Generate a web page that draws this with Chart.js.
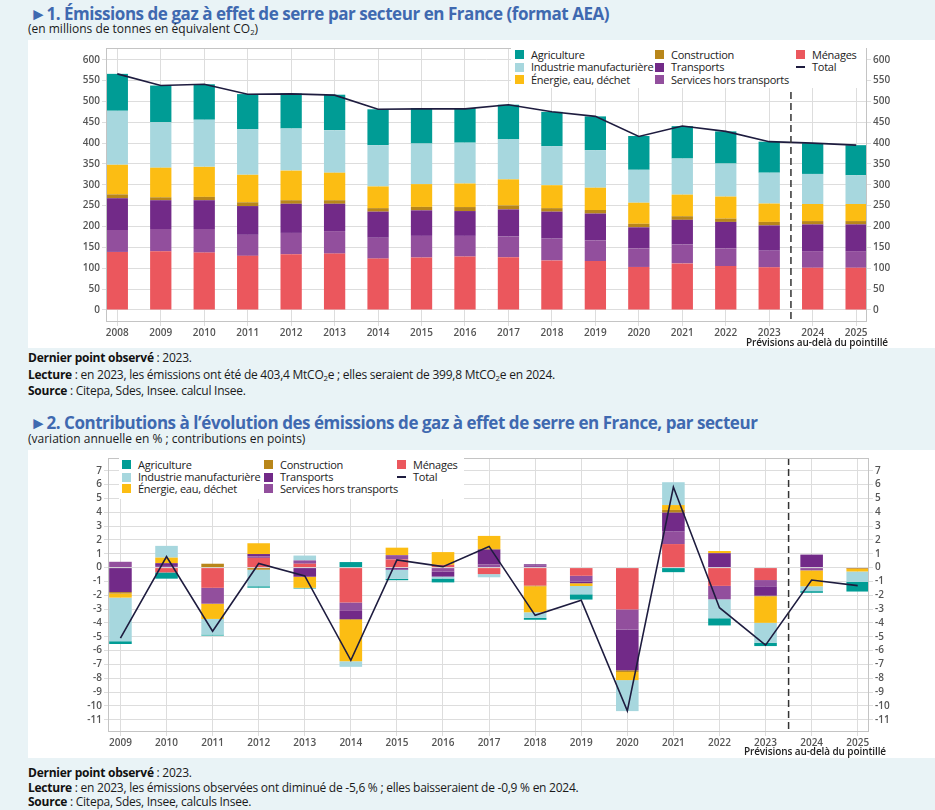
<!DOCTYPE html>
<html lang="fr">
<head>
<meta charset="utf-8">
<script src="https://cdn.jsdelivr.net/npm/chart.js@4.4.1/dist/chart.umd.min.js"></script>
<style>
  body { margin: 0; width: 935px; height: 810px; background: #e9f3f6; font-family: "Open Sans", sans-serif; color: #1a1a1a; position: relative; overflow: hidden; }
  .title { position: absolute; left: 30px; font-weight: 700; font-size: 17px; line-height: 20px; color: #3f69b0; white-space: nowrap; letter-spacing: -0.45px; }
  .sub { position: absolute; left: 28px; font-size: 12px; line-height: 16px; white-space: nowrap; }
  .panel { position: absolute; left: 28px; width: 907px; height: 308px; background: #fff; }
  .notes { position: absolute; left: 28px; font-size: 12px; white-space: nowrap; letter-spacing: -0.25px; }
  .notes b { font-weight: 700; color: #111; }
  sub { font-size: 0.65em; line-height: 0; vertical-align: -0.3em; }
  .legend { position: absolute; background: #fff; font-size: 11px; color: #222; letter-spacing: -0.25px; }
  .legend .it { position: absolute; white-space: nowrap; line-height: 13px; }
  .legend .sw { position: absolute; width: 9px; height: 9px; }
  .legend .ln { position: absolute; width: 9px; height: 2px; }
  .prev { position: absolute; font-size: 10px; font-weight: 600; color: #222; white-space: nowrap; letter-spacing: -0.1px; }
</style>
</head>
<body>
<div class="title" style="top:4px">►1. Émissions de gaz à effet de serre par secteur en France (format AEA)</div>
<div class="sub" style="top:21px">(en millions de tonnes en équivalent CO<sub>2</sub>)</div>
<div class="panel" style="top:40px"><canvas id="chartEmissions"></canvas></div>
<div class="legend" id="legend1" style="left:511px; top:44px; width:355px; height:44px"></div>
<div class="prev" style="right:47px; top:335px">Prévisions au-delà du pointillé</div>
<div class="notes" style="top:350px; line-height:16.7px">
  <b>Dernier point observé</b> : 2023.<br>
  <b>Lecture</b> : en 2023, les émissions ont été de 403,4 MtCO<sub>2</sub>e ; elles seraient de 399,8 MtCO<sub>2</sub>e en 2024.<br>
  <b>Source</b> : Citepa, Sdes, Insee. calcul Insee.
</div>

<div class="title" style="top:413px">►2. Contributions à l’évolution des émissions de gaz à effet de serre en France, par secteur</div>
<div class="sub" style="top:431px">(variation annuelle en % ; contributions en points)</div>
<div class="panel" style="top:450px"><canvas id="chartContrib"></canvas></div>
<div class="legend" id="legend2" style="left:119px; top:453px; width:345px; height:46px"></div>
<div class="prev" style="right:49px; top:744px">Prévisions au-delà du pointillé</div>
<div class="notes" style="top:766px; line-height:14.5px">
  <b>Dernier point observé</b> : 2023.<br>
  <b>Lecture</b> : en 2023, les émissions observées ont diminué de -5,6 % ; elles baisseraient de -0,9 % en 2024.<br>
  <b>Source</b> : Citepa, Sdes, Insee, calculs Insee.
</div>

<script>
// ---- graphique 1 : émissions (MtCO2e) ----
const years1 = [2008, 2009, 2010, 2011, 2012, 2013, 2014, 2015, 2016, 2017, 2018, 2019, 2020, 2021, 2022, 2023, 2024, 2025];
const emMenages = [139, 140.6, 137.4, 129.6, 133.5, 135, 123, 125.7, 128, 126.4, 118.6, 117, 103, 111.5, 105, 102, 101, 101];
const emServices = [52.6, 53.4, 56.6, 50.4, 51.1, 54, 50, 51.8, 49.5, 49.6, 52.4, 49.5, 44.6, 45.5, 42.6, 40, 40, 40];
const emTransports = [76.2, 69, 69, 69, 69.9, 65.5, 62.6, 61.2, 59.5, 65, 64.6, 64.5, 50.4, 59, 63.4, 60.6, 64, 64];
const emConstruction = [9.2, 7, 8, 9, 8.5, 8.5, 8.4, 8.3, 9.6, 9.5, 8.4, 8.5, 8.5, 8.6, 8, 8.4, 8, 8];
const emEnergie = [71, 71, 72, 66, 71, 66, 52, 54.6, 56.4, 62.5, 55, 53.5, 50.5, 51.8, 52.7, 44, 41, 41];
const emIndustrie = [129.5, 109, 113, 109, 101, 102, 99, 97.4, 98, 96, 93.7, 90, 79, 86.6, 79.3, 74, 72, 69];
const emAgriculture = [88.5, 88, 85, 84.5, 84, 85, 86, 85, 83, 83, 82.3, 81, 81, 77.6, 77, 74.4, 73.8, 72];
const emTotal = [566, 538, 541, 517, 518, 515, 481, 482, 482, 492, 475, 464, 416, 441, 428, 403.4, 399.8, 395];
const ticks1 = [0, 50, 100, 150, 200, 250, 300, 350, 400, 450, 500, 550, 600];

// ---- graphique 2 : contributions (points) ----
const years2 = [2009, 2010, 2011, 2012, 2013, 2014, 2015, 2016, 2017, 2018, 2019, 2020, 2021, 2022, 2023, 2024, 2025];
const ctMenages = [0, -0.35, -1.46, 0.7, 0.28, -2.52, 0.59, 0.2, -0.47, -1.3, -0.59, -3.02, 1.7, -1.32, -0.9, 0, -0.03];
const ctServices = [0.42, 0.12, -1.15, 0.1, 0.24, -0.61, 0.31, -0.28, 0.24, 0.14, -0.42, -1.46, 0.9, -0.97, -0.45, -0.2, 0];
const ctTransports = [-1.77, 0.2, 0, 0.18, -0.66, -0.59, -0.15, -0.37, 1.06, 0.1, -0.12, -2.94, 1.37, 1.04, -0.68, 0.94, 0];
const ctConstruction = [-0.1, 0, 0.28, -0.15, 0, -0.05, 0, 0, 0.05, -0.05, 0, -0.12, 0.2, 0, -0.05, 0, -0.05];
const ctEnergie = [-0.3, 0.4, -1.1, 0.78, -0.8, -3.0, 0.54, 0.92, 0.94, -1.88, -0.2, -0.59, 0.35, 0.16, -1.91, -1.15, -0.2];
const ctIndustrie = [-3.15, 0.85, -1.13, -1.2, 0.35, -0.4, -0.66, -0.14, -0.23, -0.4, -0.6, -2.24, 1.65, -1.37, -1.44, -0.35, -0.75];
const ctAgriculture = [-0.2, -0.45, -0.07, -0.1, -0.05, 0.4, -0.1, -0.28, 0, -0.14, -0.38, 0, -0.33, -0.52, -0.24, -0.12, -0.7];
const ctTotal = [-5.1, 0.8, -4.6, 0.3, -0.6, -6.7, 0.55, 0.07, 1.53, -3.45, -2.35, -10.35, 5.82, -2.9, -5.6, -0.9, -1.3];
const ticks2 = [-11, -10, -9, -8, -7, -6, -5, -4, -3, -2, -1, 0, 1, 2, 3, 4, 5, 6, 7];

const lastObserved = 2023;

const colors = {
  "Agriculture": "#009c95",
  "Industrie manufacturière": "#a7d7de",
  "Énergie, eau, déchet": "#fcbd13",
  "Construction": "#b8861a",
  "Transports": "#722a88",
  "Services hors transports": "#924f9d",
  "Ménages": "#eb575d",
  "Total": "#1e1c3f",
};
// ordre des colonnes de la légende
const legendCols = [
  ["Agriculture", "Industrie manufacturière", "Énergie, eau, déchet"],
  ["Construction", "Transports", "Services hors transports"],
  ["Ménages", "Total"],
];

function buildLegend(id, colX, rowY) {
  const box = document.getElementById(id);
  legendCols.forEach((col, c) => {
    col.forEach((name, r) => {
      const mark = document.createElement("div");
      mark.className = name === "Total" ? "ln" : "sw";
      mark.style.background = colors[name];
      mark.style.left = colX[c] + "px";
      mark.style.top = (rowY[r] - (name === "Total" ? 1 : 4.5)) + "px";
      box.appendChild(mark);
      const txt = document.createElement("div");
      txt.className = "it";
      txt.textContent = name;
      txt.style.left = (colX[c] + 16) + "px";
      txt.style.top = (rowY[r] - 7) + "px";
      box.appendChild(txt);
    });
  });
}
buildLegend("legend1", [4, 144, 285], [10.5, 23, 35.5]);
buildLegend("legend2", [3, 145, 278], [11.5, 24, 35.5]);

// cadre + trait vertical pointillé
const framePlugin = {
  id: "frame",
  afterDraw(chart) {
    const { ctx, chartArea: a, scales } = chart;
    const x = scales.x.getPixelForValue(lastObserved + 0.5);
    ctx.save();
    ctx.strokeStyle = "#333";
    ctx.lineWidth = 1.5;
    ctx.setLineDash([7, 4]);
    ctx.beginPath();
    ctx.moveTo(x, a.top);
    ctx.lineTo(x, a.bottom);
    ctx.stroke();
    ctx.setLineDash([]);
    ctx.strokeStyle = "#c4c4c4";
    ctx.lineWidth = 1;
    ctx.strokeRect(a.left + 0.5, a.top + 0.5, a.width - 1, a.height - 1);
    ctx.restore();
  },
};

function bars(labels, series) {
  return labels.map((name, i) => ({
    type: "bar",
    label: name,
    data: series[i],
    backgroundColor: colors[name],
    borderWidth: 0,
    barPercentage: 0.49,
    categoryPercentage: 1,
    order: 1,
  }));
}

const tickFont = { family: "Open Sans", size: 10, weight: "600" };
const gridColor = "#dddddd";

function yAxis(min, max, tickList, side, width) {
  return {
    type: "linear",
    position: side,
    stacked: side === "left",
    min: min,
    max: max,
    afterBuildTicks: (s) => { s.ticks = tickList.map((v) => ({ value: v })); },
    afterFit: (s) => { s.width = width; },
    grid: { color: gridColor, tickLength: 4, drawOnChartArea: side === "left" },
    border: { display: false },
    ticks: { padding: 2, color: "#555", font: tickFont, callback: (v) => String(v) },
  };
}

function xAxis(min, max, yearList) {
  return {
    type: "linear",
    stacked: true,
    offset: false,
    min: min,
    max: max,
    afterBuildTicks: (s) => { s.ticks = yearList.map((v) => ({ value: v })); },
    afterFit: (s) => { s.height = 26; },
    grid: { color: gridColor, tickLength: 4, offset: false },
    border: { display: false },
    ticks: { padding: 1, color: "#555", font: tickFont, autoSkip: false, maxRotation: 0, callback: (v) => String(v) },
  };
}

const sectorOrder = ["Ménages", "Services hors transports", "Transports", "Construction", "Énergie, eau, déchet", "Industrie manufacturière", "Agriculture"];

const ctx1 = document.getElementById("chartEmissions").getContext("2d");
new Chart(ctx1, {
  data: {
    labels: years1,
    datasets: [
      {
        type: "line",
        label: "Total",
        data: emTotal,
        borderColor: colors["Total"],
        borderWidth: 1.6,
        pointRadius: 0,
        stack: "total",
        order: 0,
      },
      ...bars(sectorOrder, [emMenages, emServices, emTransports, emConstruction, emEnergie, emIndustrie, emAgriculture]),
    ],
  },
  options: {
    responsive: true,
    maintainAspectRatio: false,
    animation: false,
    layout: { padding: { top: 3, bottom: 0, left: 0, right: 0 } },
    scales: {
      x: xAxis(2007.74, 2025.25, years1),
      y: yAxis(-29, 628, ticks1, "left", 78),
      y2: yAxis(-29, 628, ticks1, "right", 68),
    },
    plugins: { legend: { display: false }, tooltip: { enabled: false } },
  },
  plugins: [framePlugin],
});

const ctx2 = document.getElementById("chartContrib").getContext("2d");
new Chart(ctx2, {
  data: {
    labels: years2,
    datasets: [
      {
        type: "line",
        label: "Total",
        data: ctTotal,
        borderColor: colors["Total"],
        borderWidth: 1.6,
        pointRadius: 0,
        stack: "total",
        order: 0,
      },
      ...bars(sectorOrder, [ctMenages, ctServices, ctTransports, ctConstruction, ctEnergie, ctIndustrie, ctAgriculture]),
    ],
  },
  options: {
    responsive: true,
    maintainAspectRatio: false,
    animation: false,
    layout: { padding: { top: 2, bottom: 0, left: 0, right: 0 } },
    scales: {
      x: xAxis(2008.73, 2025.245, years2),
      y: yAxis(-11.88, 7.92, ticks2, "left", 80),
      y2: yAxis(-11.88, 7.92, ticks2, "right", 66),
    },
    plugins: { legend: { display: false }, tooltip: { enabled: false } },
  },
  plugins: [framePlugin],
});
</script>
</body>
</html>
